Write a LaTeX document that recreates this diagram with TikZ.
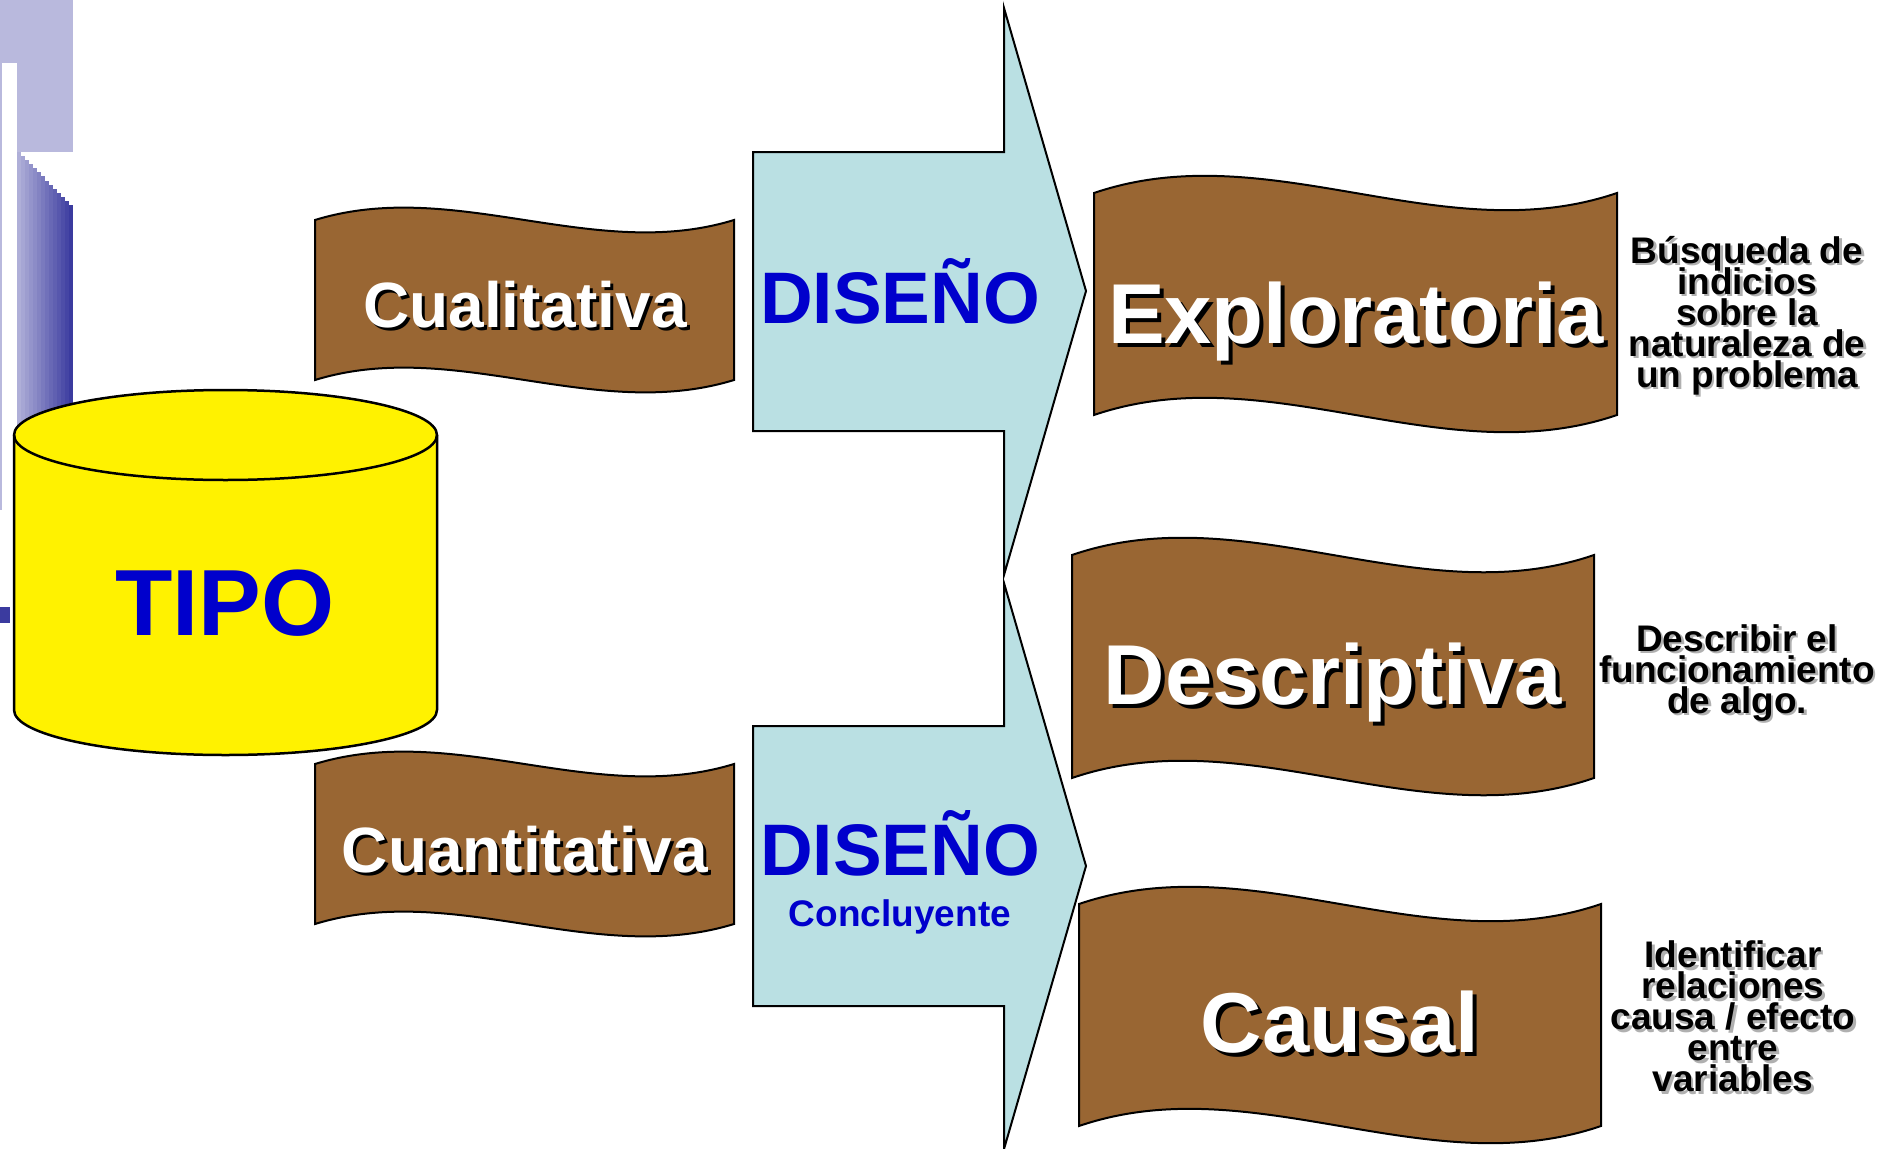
\documentclass[tikz,border=0pt]{standalone}
\usepackage{fontspec}
\setmainfont{Liberation Sans}
\definecolor{lav}{HTML}{B9B9DD}
\definecolor{darkb}{HTML}{3B3B9F}
\definecolor{brownb}{HTML}{996633}
\definecolor{arrowc}{HTML}{BAE0E3}
\definecolor{bluet}{HTML}{0000CC}
\definecolor{shgray}{HTML}{B0B0B0}
\newcommand\shd[3]{\makebox[0pt][l]{\kern#3\raisebox{-#3}{\color{#2}#1}}#1}
\newcommand\tightlines{\lineskiplimit=-100pt\relax\lineskip=0pt\relax}
\newcommand\wavebanner[4]{%
  \draw[bannerst] (#1,#3) .. controls ({#1+(#2-#1)/3},{#3-0.268*(#4-#3)}) and ({#1+2*(#2-#1)/3},{#3+0.268*(#4-#3)}) .. (#2,#3)
    -- (#2,#4) .. controls ({#1+2*(#2-#1)/3},{#4+0.268*(#4-#3)}) and ({#1+(#2-#1)/3},{#4-0.268*(#4-#3)}) .. (#1,#4) -- cycle;}
\begin{document}
\begin{tikzpicture}[x=1pt,y=-1pt,
  bannerst/.style={draw=black,line width=2pt,fill=brownb,line join=miter},
  arrowst/.style={draw=black,line width=2pt,fill=arrowc,line join=miter},
  whitetxt/.style={anchor=base,inner sep=0pt,text=white,font=\bfseries},
  bluetxt/.style={anchor=base,inner sep=0pt,text=bluet,font=\bfseries},
  sidetxt/.style={anchor=center,inner sep=0pt,align=center,text=black,
     font={\fontsize{37}{31}\selectfont\bfseries\tightlines}}]
\useasboundingbox (0,0) rectangle (1878,1148);
\fill[white] (0,0) rectangle (1878,1148);
% background decoration
\fill[lav] (0,0) rectangle (73,152);
\fill[lav] (0,63) rectangle (17,510);
\fill[white] (1.5,63) rectangle (17,510);
\foreach \i in {0,...,13} {
  \pgfmathtruncatemacro\pct{8+92*\i/13}
  \pgfmathsetmacro\topy{152+53*\i/13}
  \fill[darkb!\pct!lav] ({17+4*\i},\topy) rectangle ({21.3+4*\i},445);
}
\fill[darkb] (0,607) rectangle (10,623);
% cylinder
\draw[line width=2.5pt,fill=yellow] (14,435) -- (14,710)
  arc[start angle=180,end angle=360,x radius=211.5pt,y radius=45pt] -- (437,435)
  arc[start angle=0,end angle=180,x radius=211.5pt,y radius=45pt] -- cycle;
\draw[line width=2.5pt] (14,435) arc[start angle=180,end angle=360,x radius=211.5pt,y radius=45pt];
\node[bluetxt,font=\fontsize{94}{94}\selectfont\bfseries] (tipo) at (225,635) {TIPO};
% arrows
\draw[arrowst] (753,152) -- (1004,152) -- (1004,8) -- (1086,291) -- (1004,575) -- (1004,431) -- (753,431) -- cycle;
\draw[arrowst] (753,726) -- (1004,726) -- (1004,583) -- (1086,866) -- (1004,1149) -- (1004,1006) -- (753,1006) -- cycle;
\node[bluetxt,font=\fontsize{73}{73}\selectfont\bfseries] (dis1) at (900,323) {DISEÑO};
\node[bluetxt,font=\fontsize{73}{73}\selectfont\bfseries] (dis2) at (900,875.5) {DISEÑO};
\node[bluetxt,font=\fontsize{37}{37}\selectfont\bfseries] (concl) at (900,926) {Concluyente};
% banners
\wavebanner{315}{734}{220}{380}
\wavebanner{315}{734}{764}{924}
\wavebanner{1094}{1617}{193}{415}
\wavebanner{1072}{1594}{555}{778}
\wavebanner{1079}{1601}{904}{1126}
\node[whitetxt,font=\fontsize{64}{64}\selectfont\bfseries] (cual) at (525,327) {\shd{Cualitativa}{black}{3pt}};
\node[whitetxt,font=\fontsize{64}{64}\selectfont\bfseries] (cuan) at (525,872) {\shd{Cuantitativa}{black}{3pt}};
\node[whitetxt,font=\fontsize{85}{85}\selectfont\bfseries] (expl) at (1356,343) {\shd{Exploratoria}{black}{4pt}};
\node[whitetxt,font=\fontsize{85}{85}\selectfont\bfseries] (desc) at (1333,704) {\shd{Descriptiva}{black}{4pt}};
\node[whitetxt,font=\fontsize{85}{85}\selectfont\bfseries] (caus) at (1340,1052) {\shd{Causal}{black}{4pt}};
% side texts
\node[sidetxt] (t1) at (1747,317) {\shd{Búsqueda de}{shgray}{2.5pt}\\\shd{indicios}{shgray}{2.5pt}\\\shd{sobre la}{shgray}{2.5pt}\\\shd{naturaleza de}{shgray}{2.5pt}\\\shd{un problema}{shgray}{2.5pt}};
\node[sidetxt] (t2) at (1737,674) {\shd{Describir el}{shgray}{2.5pt}\\\shd{funcionamiento}{shgray}{2.5pt}\\\shd{de algo.}{shgray}{2.5pt}};
\node[sidetxt] (t3) at (1733,1018) {\shd{Identificar}{shgray}{2.5pt}\\\shd{relaciones}{shgray}{2.5pt}\\\shd{causa / efecto}{shgray}{2.5pt}\\\shd{entre}{shgray}{2.5pt}\\\shd{variables}{shgray}{2.5pt}};
\end{tikzpicture}
\end{document}
